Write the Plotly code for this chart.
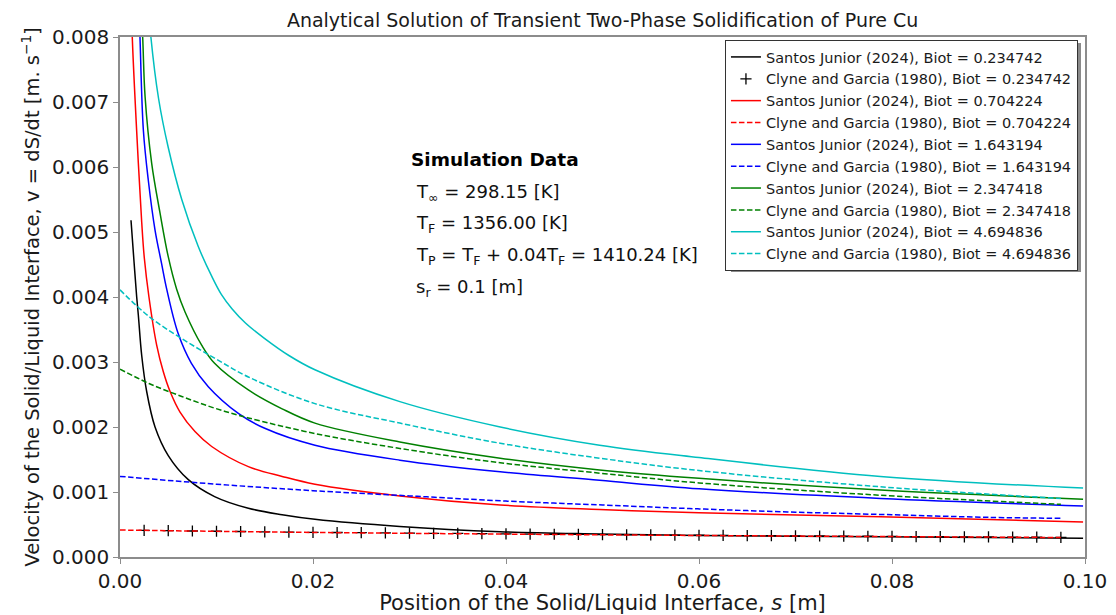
import plotly.graph_objects as go

# ---- Santos Junior (2024) solutions: interface position s [m] and velocity v [m/s]
sj_bi1_s = [0.00114, 0.00145, 0.00173, 0.0019, 0.00225, 0.00276, 0.00363, 0.0050, 0.00708, 0.0098, 0.0133, 0.0168, 0.0202, 0.029, 0.0394, 0.0497, 0.060, 0.0788, 0.0998]
sj_bi1_v = [0.00518, 0.00455, 0.0040, 0.00372, 0.00310, 0.00255, 0.00200, 0.00156, 0.00119, 0.00093, 0.00075, 0.00065, 0.00058, 0.00047, 0.00039, 0.000355, 0.00033, 0.00031, 0.00029]

sj_bi2_s = [0.0011, 0.00127, 0.0019, 0.00225, 0.00252, 0.0030, 0.0038, 0.00449, 0.00518, 0.00622, 0.00777, 0.0095, 0.0133, 0.0168, 0.0202, 0.029, 0.0394, 0.0497, 0.060, 0.0788, 0.0998]
sj_bi2_v = [0.0090, 0.0080, 0.00606, 0.00515, 0.00460, 0.0040, 0.00326, 0.00285, 0.00255, 0.00223, 0.00193, 0.0017, 0.00139, 0.00124, 0.00112, 0.00094, 0.0008, 0.00073, 0.00068, 0.00062, 0.00054]

sj_bi3_s = [0.0019, 0.00207, 0.00242, 0.00293, 0.00363, 0.0043, 0.00484, 0.0060, 0.0074, 0.00915, 0.01226, 0.015, 0.0202, 0.029, 0.0394, 0.0497, 0.060, 0.0788, 0.0998]
sj_bi3_v = [0.0088, 0.0080, 0.00657, 0.0058, 0.00503, 0.00452, 0.00412, 0.00345, 0.00298, 0.00262, 0.00221, 0.00198, 0.00172, 0.00149, 0.00131, 0.00118, 0.00105, 0.0009, 0.000785]

sj_bi4_s = [0.0021, 0.00235, 0.0026, 0.00328, 0.00415, 0.0050, 0.00587, 0.00674, 0.00846, 0.0098, 0.0133, 0.0168, 0.0202, 0.029, 0.0394, 0.0497, 0.060, 0.0788, 0.0998]
sj_bi4_v = [0.0088, 0.0080, 0.00708, 0.00606, 0.00529, 0.00462, 0.00412, 0.00377, 0.00326, 0.00298, 0.00257, 0.00228, 0.00206, 0.00177, 0.00152, 0.00134, 0.00121, 0.00103, 0.00089]

sj_bi5_s = [0.0028, 0.0032, 0.0040, 0.0050, 0.0064, 0.0081, 0.0095, 0.0105, 0.0116, 0.0130, 0.0150, 0.0175, 0.0202, 0.029, 0.0394, 0.0497, 0.060, 0.0788, 0.0998]
sj_bi5_v = [0.0088, 0.0080, 0.00705, 0.0063, 0.0055, 0.00478, 0.00432, 0.00404, 0.00382, 0.00360, 0.00336, 0.00310, 0.00288, 0.00239, 0.0020, 0.00172, 0.00153, 0.00124, 0.00106]

# ---- Clyne and Garcia (1980) solutions
cg_bi1_s = [0.0025, 0.0050, 0.0075, 0.0100, 0.0125, 0.0150, 0.0175, 0.0200, 0.0225, 0.0250,
            0.0275, 0.0300, 0.0325, 0.0350, 0.0375, 0.0400, 0.0425, 0.0450, 0.0475, 0.0500,
            0.0525, 0.0550, 0.0575, 0.0600, 0.0625, 0.0650, 0.0675, 0.0700, 0.0725, 0.0750,
            0.0775, 0.0800, 0.0825, 0.0850, 0.0875, 0.0900, 0.0925, 0.0950, 0.0975]
cg_bi1_v = [0.000410, 0.000405, 0.000400, 0.000396, 0.000392, 0.000388, 0.000384, 0.000380, 0.000377, 0.000374,
            0.000371, 0.000368, 0.000365, 0.000362, 0.000359, 0.000356, 0.000353, 0.000350, 0.000347, 0.000345,
            0.000342, 0.000340, 0.000337, 0.000335, 0.000332, 0.000330, 0.000328, 0.000325, 0.000323, 0.000321,
            0.000319, 0.000317, 0.000315, 0.000313, 0.000311, 0.000309, 0.000307, 0.000305, 0.000303]

cg_bi2_s = [0.0, 0.01, 0.02, 0.03, 0.04, 0.05, 0.06, 0.07, 0.08, 0.09, 0.0975]
cg_bi2_v = [0.000415, 0.000395, 0.000378, 0.000364, 0.000352, 0.000341, 0.000331, 0.000322, 0.000314, 0.000306, 0.000300]

cg_bi3_s = [0.0, 0.01, 0.02, 0.03, 0.04, 0.05, 0.06, 0.07, 0.08, 0.09, 0.0975]
cg_bi3_v = [0.00124, 0.00112, 0.00102, 0.00094, 0.00086, 0.00080, 0.00074, 0.00069, 0.00065, 0.00061, 0.000595]

cg_bi4_s = [0.0, 0.003, 0.0064, 0.0098, 0.0133, 0.0202, 0.029, 0.0394, 0.0497, 0.060, 0.0788, 0.0975]
cg_bi4_v = [0.00289, 0.00267, 0.00247, 0.00229, 0.00214, 0.0019, 0.00167, 0.00145, 0.00129, 0.00114, 0.00095, 0.00081]

cg_bi5_s = [0.0, 0.003, 0.0064, 0.0098, 0.0133, 0.0202, 0.029, 0.0394, 0.0497, 0.060, 0.0788, 0.0975]
cg_bi5_v = [0.00411, 0.0037, 0.00336, 0.00306, 0.00277, 0.00236, 0.00206, 0.00175, 0.00152, 0.00133, 0.00108, 0.0009]

biot = ["0.234742", "0.704224", "1.643194", "2.347418", "4.694836"]
colors = ["#000000", "#ff0000", "#0000ff", "#008000", "#00bfbf"]

sim_lines = [
    "T<sub>∞</sub> = 298.15 [K]",
    "T<sub>F</sub> = 1356.00 [K]",
    "T<sub>P</sub> = T<sub>F</sub> + 0.04T<sub>F</sub> = 1410.24 [K]",
    "s<sub>r</sub> = 0.1 [m]",
]

FONT = "DejaVu Sans"
DASH = "5.5px,2.5px"
SMOOTH = 1.0

sj = [(sj_bi1_s, sj_bi1_v), (sj_bi2_s, sj_bi2_v), (sj_bi3_s, sj_bi3_v), (sj_bi4_s, sj_bi4_v), (sj_bi5_s, sj_bi5_v)]
cg = [(cg_bi1_s, cg_bi1_v), (cg_bi2_s, cg_bi2_v), (cg_bi3_s, cg_bi3_v), (cg_bi4_s, cg_bi4_v), (cg_bi5_s, cg_bi5_v)]

fig = go.Figure()
for i in range(5):
    s, v = sj[i]
    fig.add_trace(go.Scatter(
        x=s, y=v, mode="lines", name=f"Santos Junior (2024), Biot = {biot[i]}",
        line=dict(color=colors[i], width=1.5, shape="spline", smoothing=SMOOTH),
        legendgroup=f"sj{i}",
    ))
    s, v = cg[i]
    if i == 0:
        fig.add_trace(go.Scatter(
            x=s, y=v, mode="markers", name=f"Clyne and Garcia (1980), Biot = {biot[i]}",
            marker=dict(symbol="cross-thin", size=8, color="#000000",
                        line=dict(color="#000000", width=1.3)),
            legendgroup=f"cg{i}",
        ))
    else:
        fig.add_trace(go.Scatter(
            x=s, y=v, mode="lines", name=f"Clyne and Garcia (1980), Biot = {biot[i]}",
            line=dict(color=colors[i], width=1.5, dash=DASH, shape="spline", smoothing=SMOOTH),
            legendgroup=f"cg{i}",
        ))

# Parameter block
annotations = [dict(
    x=0.2995, y=0.7635, xref="paper", yref="paper", xanchor="left", yanchor="middle",
    text="<b>Simulation Data</b>", showarrow=False,
    font=dict(family=FONT, size=18.5, color="#000000"),
)]
for txt, yy in zip(sim_lines, [0.700, 0.6404, 0.5788, 0.5173]):
    annotations.append(dict(
        x=0.3047, y=yy, xref="paper", yref="paper", xanchor="left", yanchor="middle",
        text=txt, showarrow=False, font=dict(family=FONT, size=18, color="#111111"),
    ))

axis_common = dict(
    showline=True, linecolor="#8c8c8c", linewidth=1.5, mirror=True,
    ticks="outside", ticklen=5, tickwidth=1.2, tickcolor="#8c8c8c",
    showgrid=False, zeroline=False, automargin=False,
    tickfont=dict(family=FONT, size=20, color="#1a1a1a"),
)

# legend box placement (pixels) and its drop shadow
LEG_TOP = 40
fig.update_layout(
    width=1116, height=615,
    margin=dict(l=120, r=31, t=37, b=58, autoexpand=False),
    paper_bgcolor="white", plot_bgcolor="white",
    font=dict(family=FONT, color="#1a1a1a"),
    title=dict(text="Analytical Solution of Transient Two-Phase Solidification of Pure Cu",
               x=0.54, xanchor="center", y=0.967, yanchor="middle",
               font=dict(family=FONT, size=19, color="#1a1a1a")),
    xaxis=dict(range=[0, 0.1], dtick=0.02, tickformat=".2f",
               title=dict(text="Position of the Solid/Liquid Interface, <i>s</i> [m]",
                          font=dict(family=FONT, size=21), standoff=2),
               **axis_common),
    yaxis=dict(range=[0, 0.008], dtick=0.001, tickformat=".3f",
               title=dict(text="Velocity of the Solid/Liquid Interface, v = dS/dt [m. s<sup>−1</sup>]",
                          font=dict(family=FONT, size=19.5), standoff=7),
               **axis_common),
    legend=dict(
        x=0.9927, y=(557 - LEG_TOP) / 520, xanchor="right", yanchor="top",
        bgcolor="white", bordercolor="#333333", borderwidth=1,
        font=dict(family=FONT, size=14.5, color="#1a1a1a"),
        tracegroupgap=0, itemwidth=30,
    ),
    annotations=annotations,
    shapes=[dict(
        type="rect", xref="paper", yref="paper",
        x0=(731 - 120) / 965, x1=(1081 - 120) / 965,
        y0=(557 - 272) / 520, y1=(557 - 43) / 520,
        fillcolor="#8a8a8a", line=dict(width=0), layer="above",
    )],
    showlegend=True,
)

fig.write_html("out.html")
